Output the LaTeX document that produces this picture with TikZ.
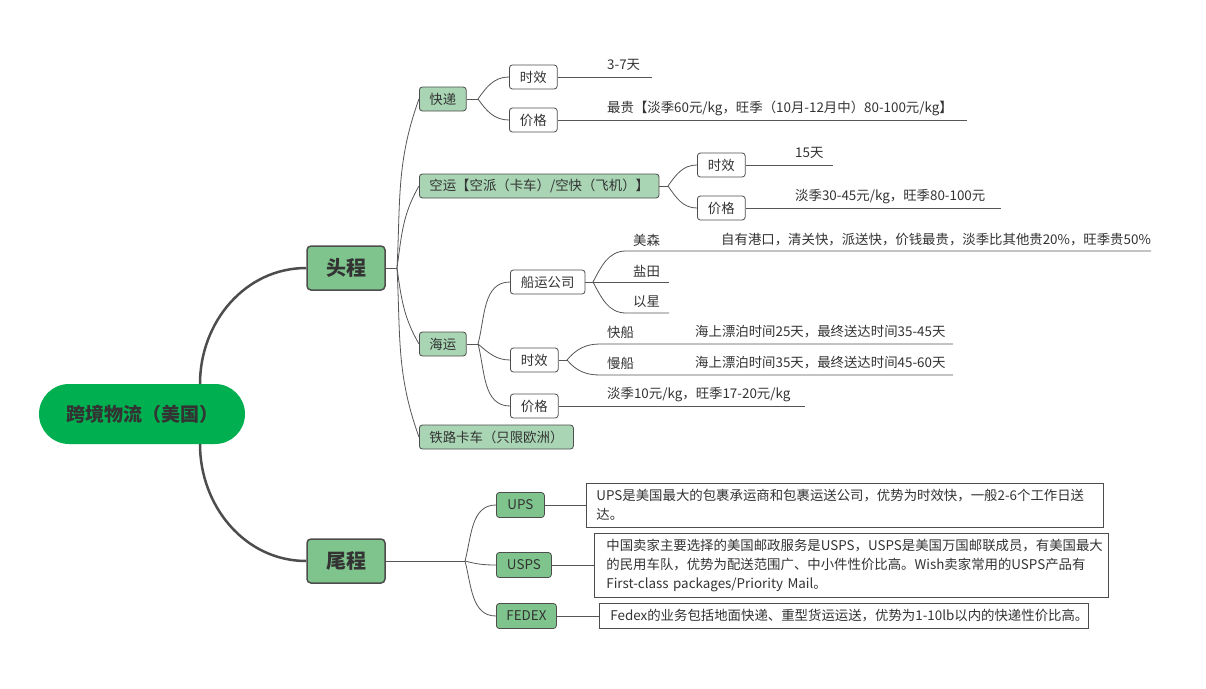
\documentclass[tikz,border=0pt]{standalone}
\usepackage{fontspec}
\setmainfont{Noto Sans CJK SC}
\usetikzlibrary{calc}
\definecolor{txt}{HTML}{333333}
\definecolor{bord}{HTML}{4D4D4D}
\definecolor{linec}{HTML}{555555}
\definecolor{rootg}{HTML}{00AF50}
\definecolor{lonegreen}{HTML}{7EC48C}
\definecolor{ltwogreen}{HTML}{A9D5B4}
\tikzset{
  rootbox/.style={rectangle, rounded corners=30pt, fill=rootg, minimum width=206pt, minimum height=60pt, font=\fontsize{19}{21}\selectfont\bfseries, text=txt},
  lonebox/.style={rectangle, rounded corners=4pt, fill=lonegreen, draw=bord, line width=1.5pt, minimum width=78pt, minimum height=44pt, font=\fontsize{20}{22}\selectfont\bfseries, text=txt},
  ltwobox/.style={rectangle, rounded corners=3pt, fill=ltwogreen, draw=bord, line width=0.8pt, minimum height=24pt, inner xsep=10pt, anchor=west},
  darkbox/.style={ltwobox, fill=lonegreen, minimum height=25pt, inner xsep=0pt},
  wbox/.style={rectangle, rounded corners=3pt, fill=white, draw=bord, line width=0.8pt, minimum height=24pt, inner xsep=10.5pt, anchor=west},
  leaf/.style={anchor=west, inner sep=0pt},
  tbox/.style={rectangle, draw=bord, line width=0.8pt, fill=white, anchor=west, align=left, inner ysep=0pt, font=\fontsize{13.4}{19}\selectfont},
  conn/.style={draw=linec, line width=0.8pt},
  mainconn/.style={draw=bord, line width=2.5pt},
}
\begin{document}
\begin{tikzpicture}[x=1pt, y=-1pt, font=\fontsize{13.4}{16}\selectfont, text=txt]
\useasboundingbox[fill=white] (0,0) rectangle (1206,688);

% root and first level
\node[rootbox] (root) at (142,414) {跨境物流（美国）};
\node[lonebox] (tc) at (346,268) {头程};
\node[lonebox] (wc) at (346,561) {尾程};
\draw[mainconn] ([xshift=58pt]root.north) to[out=90, in=180] (tc.west);
\draw[mainconn] ([xshift=58pt]root.south) to[out=-90, in=180] (wc.west);

% second level under 头程
\coordinate (tcb) at (397,268);
\node[ltwobox] (kd) at (419,99) {快递};
\node[ltwobox] (ky) at (419,186) {空运【空派（卡车）/空快（飞机）】};
\node[ltwobox] (hy) at (419,344) {海运};
\node[ltwobox] (tl) at (419,437) {铁路卡车（只限欧洲）};
\draw[conn] (tc.east) -- (tcb);
\draw[conn] (tcb) to[out=87, in=-110] (kd.west);
\draw[conn] (tcb) to[out=82, in=-120] (ky.west);
\draw[conn] (tcb) to[out=-82, in=120] (hy.west);
\draw[conn] (tcb) to[out=-87, in=110] (tl.west);

% 快递
\coordinate (kdb) at (478,99);
\node[wbox] (kdsx) at (509,77) {时效};
\node[wbox] (kdjg) at (509,120) {价格};
\draw[conn] (kd.east) -- (kdb);
\draw[conn] (kdb) to[out=55, in=180] (kdsx.west);
\draw[conn] (kdb) to[out=-55, in=180] (kdjg.west);
\coordinate (kdsxe) at (652,77);
\coordinate (kdjge) at (967,120);
\draw[conn] (kdsx.east) -- (kdsxe);
\draw[conn] (kdjg.east) -- (kdjge);
\node[leaf] (t1) at (607,65) {3-7天};
\node[leaf] (t2) at (607,108.5) {最贵【淡季60元/kg，旺季（10月-12月中）80-100元/kg】};

% 空运
\coordinate (kyb) at (668,186);
\node[wbox] (kysx) at (697,165) {时效};
\node[wbox] (kyjg) at (697,208) {价格};
\draw[conn] (ky.east) -- (kyb);
\draw[conn] (kyb) to[out=55, in=180] (kysx.west);
\draw[conn] (kyb) to[out=-55, in=180] (kyjg.west);
\coordinate (kysxe) at (833,165);
\coordinate (kyjge) at (1001,208);
\draw[conn] (kysx.east) -- (kysxe);
\draw[conn] (kyjg.east) -- (kyjge);
\node[leaf] (t3) at (795,152.5) {15天};
\node[leaf] (t4) at (795,196.5) {淡季30-45元/kg，旺季80-100元};

% 海运
\coordinate (hyb) at (478,344);
\node[wbox] (cy) at (510,282) {船运公司};
\node[wbox] (hysx) at (510,360) {时效};
\node[wbox] (hyjg) at (510,406) {价格};
\draw[conn] (hy.east) -- (hyb);
\draw[conn] (hyb) to[out=75, in=180] (cy.west);
\draw[conn] (hyb) to[out=-40, in=180] (hysx.west);
\draw[conn] (hyb) to[out=-75, in=180] (hyjg.west);

% 船运公司
\coordinate (cyb) at (593,282);
\coordinate (ms0) at (626,251);
\coordinate (ms1) at (1151,251);
\coordinate (yt1) at (669,282);
\coordinate (yx0) at (626,313);
\coordinate (yx1) at (669,313);
\draw[conn] (cy.east) -- (cyb);
\draw[conn] (cyb) to[out=62, in=180] (ms0) -- (ms1);
\draw[conn] (cyb) -- (yt1);
\draw[conn] (cyb) to[out=-62, in=180] (yx0) -- (yx1);
\node[leaf] (t5) at (633,240) {美森};
\node[leaf] (t6) at (721,240) {自有港口，清关快，派送快，价钱最贵，淡季比其他贵20\%，旺季贵50\%};
\node[leaf] (t7) at (633,271) {盐田};
\node[leaf] (t8) at (633,302) {以星};

% 海运 时效
\coordinate (sxb) at (567,360);
\coordinate (kc0) at (600,344);
\coordinate (kc1) at (953,344);
\coordinate (mc0) at (600,375);
\coordinate (mc1) at (953,375);
\draw[conn] (hysx.east) -- (sxb);
\draw[conn] (sxb) to[out=50, in=180] (kc0) -- (kc1);
\draw[conn] (sxb) to[out=-50, in=180] (mc0) -- (mc1);
\node[leaf] (t9) at (607,332) {快船};
\node[leaf] (t10) at (695,332) {海上漂泊时间25天，最终送达时间35-45天};
\node[leaf] (t11) at (607,363) {慢船};
\node[leaf] (t12) at (695,363) {海上漂泊时间35天，最终送达时间45-60天};

% 海运 价格
\coordinate (hyjge) at (805,406);
\draw[conn] (hyjg.east) -- (hyjge);
\node[leaf] (t13) at (607,394.5) {淡季10元/kg，旺季17-20元/kg};

% 尾程
\coordinate (wcb) at (465,561);
\node[darkbox, minimum width=48pt] (ups) at (496,505) {UPS};
\node[darkbox, minimum width=55pt] (usps) at (496,565) {USPS};
\node[darkbox, minimum width=60pt] (fedex) at (496,616) {FEDEX};
\draw[conn] (wc.east) -- (wcb);
\draw[conn] (wcb) to[out=75, in=180] (ups.west);
\draw[conn] (wcb) to[out=-15, in=180] (usps.west);
\draw[conn] (wcb) to[out=-75, in=180] (fedex.west);

\node[tbox, inner xsep=10pt, text width=497pt, minimum height=44pt] (upst) at (586,505)
  {\mbox{UPS是美国最大的包裹承运商和包裹运送公司，优势为时效快，一般2-6个工作日送}\\达。};
\node[tbox, inner xsep=12pt, text width=490pt, minimum height=64pt] (uspst) at (594,565)
  {\mbox{中国卖家主要选择的美国邮政服务是USPS，USPS是美国万国邮联成员，有美国最大}\\\mbox{的民用车队，优势为配送范围广、中小件性价比高。Wish卖家常用的USPS产品有}\\\mbox{First-class packages/Priority Mail。}};
\node[tbox, inner xsep=11pt, text width=467pt, minimum height=25pt] (fedext) at (599,616)
  {\mbox{Fedex的业务包括地面快递、重型货运运送，优势为1-10lb以内的快递性价比高。}};
\draw[conn] (ups.east) -- (upst.west);
\draw[conn] (usps.east) -- (uspst.west);
\draw[conn] (fedex.east) -- (fedext.west);
\end{tikzpicture}
\end{document}
